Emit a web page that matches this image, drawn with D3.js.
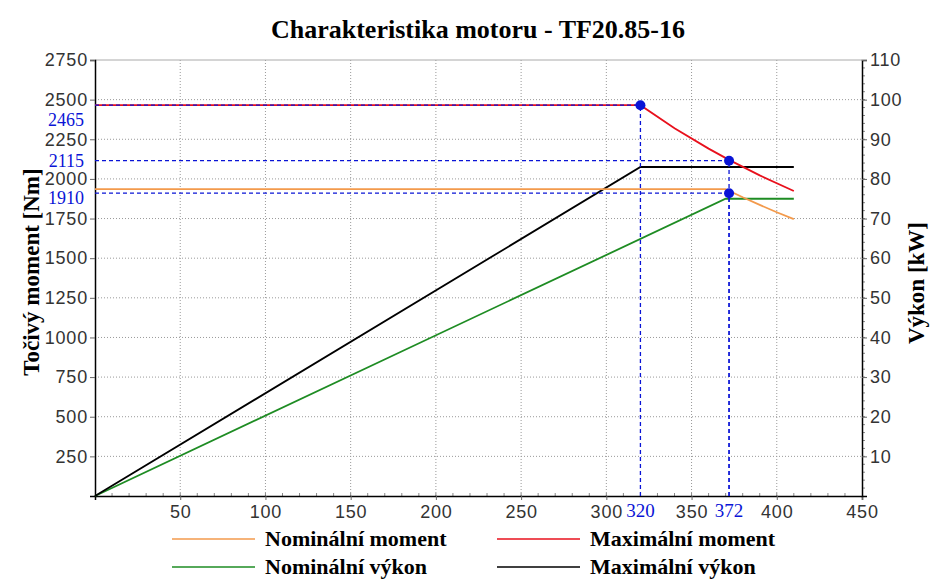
<!DOCTYPE html>
<html>
<head>
<meta charset="utf-8">
<title>Charakteristika motoru</title>
<script src="https://d3js.org/d3.v7.min.js"></script>
<style>
body { margin: 0; background: #fff; }
.tick text { font-family: "Liberation Sans", Arial, sans-serif; font-size: 18px; letter-spacing: 0.8px; fill: #333; }
.serif { font-family: "Liberation Serif", "Times New Roman", serif; }
</style>
</head>
<body>
<script>
// otacky [1/min] a hodnoty krivek
var maxMomentSpeed = [0, 320, 340, 360, 372, 390, 410];
var maxMoment      = [2465, 2465, 2320, 2191, 2120, 2022, 1924];
var nomMomentSpeed = [0, 370, 380, 390, 400, 410];
var nomMoment      = [1935, 1935, 1884, 1836, 1790, 1746];
var maxPowerSpeed  = [0, 320, 410];
var maxPower       = [0, 83, 83];
var nomPowerSpeed  = [0, 370, 410];
var nomPower       = [0, 75, 75];

// vyznacene body
var markSpeed  = [320, 372, 372];
var markMoment = [2465, 2115, 1910];
var markSpeedLabels  = ["320", "372"];
var markMomentLabels = ["2465", "2115", "1910"];

var xTicks  = [50, 100, 150, 200, 250, 300, 350, 400, 450];
var yTicks  = [250, 500, 750, 1000, 1250, 1500, 1750, 2000, 2250, 2500, 2750];
var y2Ticks = [10, 20, 30, 40, 50, 60, 70, 80, 90, 100, 110];

var legendNames  = ["Nominální moment", "Maximální moment", "Nominální výkon", "Maximální výkon"];
var legendColors = ["#f39a4c", "#e8101c", "#1e8c23", "#000000"];

var width = 938, height = 579;
var m = {left: 95, right: 76, top: 60, bottom: 83};

var svg = d3.select("body").append("svg")
  .attr("width", width).attr("height", height);

var x = d3.scaleLinear().domain([0, 450]).range([m.left, width - m.right]);
var y = d3.scaleLinear().domain([0, 2750]).range([height - m.bottom, m.top]);
var y2 = d3.scaleLinear().domain([0, 110]).range([height - m.bottom, m.top]);

// mrizka
svg.append("g").selectAll("line").data(xTicks.slice(0, -1)).enter().append("line")
  .attr("x1", d => x(d)).attr("x2", d => x(d))
  .attr("y1", y(0)).attr("y2", y(2750))
  .attr("stroke", "#999").attr("stroke-dasharray", "1,2");
svg.append("g").selectAll("line").data(yTicks.slice(0, -1)).enter().append("line")
  .attr("x1", x(0)).attr("x2", x(450))
  .attr("y1", d => y(d)).attr("y2", d => y(d))
  .attr("stroke", "#999").attr("stroke-dasharray", "1,2");
svg.append("line")
  .attr("x1", x(0)).attr("x2", x(450)).attr("y1", y(2750)).attr("y2", y(2750))
  .attr("stroke", "#aaa");

// vedlejsi znacky
svg.append("g").selectAll("line").data(d3.range(10, 450, 10)).enter().append("line")
  .attr("x1", d => x(d)).attr("x2", d => x(d))
  .attr("y1", y(0)).attr("y2", y(0) - 3).attr("stroke", "#888");
svg.append("g").selectAll("line").data(d3.range(2, 110, 2)).enter().append("line")
  .attr("x1", x(450)).attr("x2", x(450) + 3)
  .attr("y1", d => y2(d)).attr("y2", d => y2(d)).attr("stroke", "#888");

// osy
var fmt = d3.format("d");
var ax = svg.append("g").attr("transform", "translate(0," + y(0) + ")")
  .call(d3.axisBottom(x).tickValues(xTicks).tickFormat(fmt).tickSize(4).tickPadding(5));
var ay = svg.append("g").attr("transform", "translate(" + x(0) + ",0)")
  .call(d3.axisLeft(y).tickValues(yTicks).tickFormat(fmt).tickSize(5).tickPadding(2));
var ay2 = svg.append("g").attr("transform", "translate(" + x(450) + ",0)")
  .call(d3.axisRight(y2).tickValues(y2Ticks).tickFormat(fmt).tickSize(5).tickPadding(3));
[ax, ay, ay2].forEach(function (a) {
  a.select(".domain").attr("stroke", "#000").attr("stroke-width", 1.5);
  a.selectAll(".tick line").attr("stroke", "#666");
});

// krivky
function drawLine(xs, ys, scale, color) {
  var pts = xs.map((d, i) => [x(d), scale(ys[i])]);
  svg.append("path").attr("d", d3.line()(pts))
    .attr("fill", "none").attr("stroke", color).attr("stroke-width", 1.8);
}
drawLine(nomPowerSpeed, nomPower, y2, legendColors[2]);
drawLine(maxPowerSpeed, maxPower, y2, legendColors[3]);
drawLine(nomMomentSpeed, nomMoment, y, legendColors[0]);
drawLine(maxMomentSpeed, maxMoment, y, legendColors[1]);

// modre vodici cary
var blue = "#0a14d6";
var guides = svg.append("g").attr("stroke", blue).attr("stroke-width", 1.3).attr("stroke-dasharray", "4,3");
markSpeed.forEach(function (s, i) {
  guides.append("line").attr("x1", x(0)).attr("x2", x(s))
    .attr("y1", y(markMoment[i])).attr("y2", y(markMoment[i]));
  guides.append("line").attr("x1", x(s)).attr("x2", x(s))
    .attr("y1", y(0)).attr("y2", y(markMoment[i]));
});

svg.append("g").selectAll("circle").data(markSpeed).enter().append("circle")
  .attr("cx", d => x(d)).attr("cy", (d, i) => y(markMoment[i]))
  .attr("r", 5).attr("fill", blue);

// popisky vyznacenych hodnot
var dyMoment = [15, 0, 5];
svg.append("g").selectAll("text").data(markMomentLabels).enter().append("text")
  .attr("class", "serif")
  .attr("x", x(0) - 11).attr("y", (d, i) => y(markMoment[i]) + dyMoment[i])
  .attr("dy", "0.35em").attr("text-anchor", "end")
  .attr("font-size", 18).attr("fill", blue).text(d => d);
svg.append("g").selectAll("text").data(markSpeedLabels).enter().append("text")
  .attr("class", "serif")
  .attr("x", (d, i) => x(markSpeed[i])).attr("y", y(0) + 21)
  .attr("text-anchor", "middle")
  .attr("font-size", 19).attr("fill", blue).text(d => d);

// titulky
svg.append("text").attr("class", "serif")
  .attr("x", 478).attr("y", 38).attr("text-anchor", "middle")
  .attr("font-size", 26).attr("font-weight", "bold")
  .text("Charakteristika motoru - TF20.85-16");
svg.append("text").attr("class", "serif")
  .attr("transform", "translate(31,272) rotate(-90)")
  .attr("dy", "0.35em")
  .attr("text-anchor", "middle").attr("font-size", 23).attr("font-weight", "bold")
  .text("Točivý moment [Nm]");
svg.append("text").attr("class", "serif")
  .attr("transform", "translate(916,283) rotate(-90)")
  .attr("dy", "0.35em")
  .attr("text-anchor", "middle").attr("font-size", 23).attr("font-weight", "bold")
  .text("Výkon [kW]");

// legenda
var lx = [172, 497], ly = [539, 567];
legendNames.forEach(function (name, i) {
  var cx = lx[i % 2], cy = ly[Math.floor(i / 2)];
  svg.append("line").attr("x1", cx).attr("x2", cx + 83)
    .attr("y1", cy).attr("y2", cy)
    .attr("stroke", legendColors[i]).attr("stroke-width", 1.5);
  svg.append("text").attr("class", "serif")
    .attr("x", cx + 93).attr("y", cy).attr("dy", "0.33em")
    .attr("font-size", 22).attr("font-weight", "bold").text(name);
});
</script>
</body>
</html>
